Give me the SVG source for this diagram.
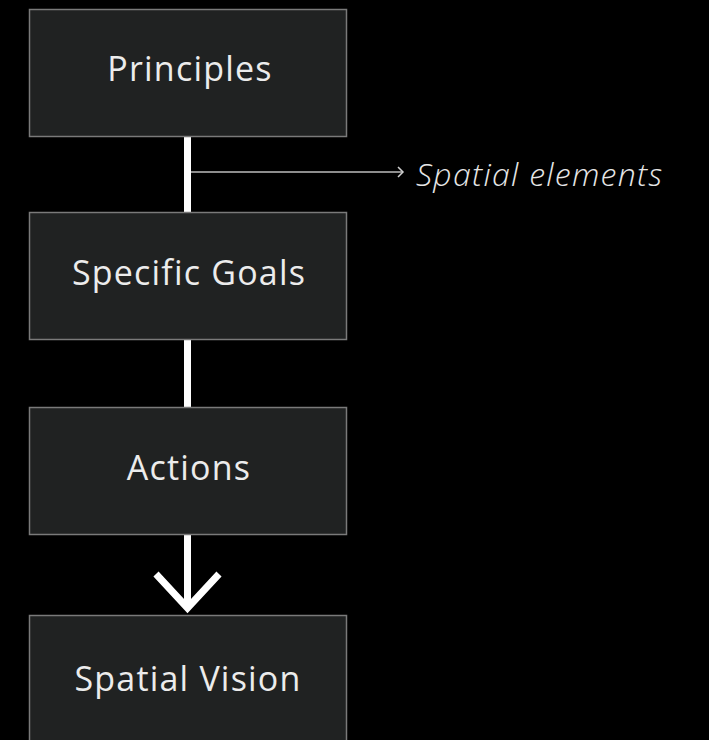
<svg xmlns="http://www.w3.org/2000/svg" width="709" height="740" viewBox="0 0 709 740">
<style>
.box{fill:#202222;stroke:#7a7a7a;stroke-width:1.5}
.lbl{font-family:"Open Sans","Noto Sans",sans-serif;font-size:34px;letter-spacing:1.2px;fill:#ececec;text-anchor:middle}
.note{font-family:"Open Sans","Noto Sans",sans-serif;font-style:italic;font-weight:300;font-size:32px;letter-spacing:1.3px;fill:#e6e6e6}
.thick{stroke:#ffffff;stroke-width:7;fill:none}
</style>
<rect width="709" height="740" fill="#000"/>
<g id="connectors">
<line class="thick" x1="187.5" y1="137" x2="187.5" y2="212"/>
<line class="thick" x1="187.5" y1="340" x2="187.5" y2="407"/>
<line x1="191" y1="172" x2="403" y2="172" stroke="#bdbdbd" stroke-width="1.5"/>
<polyline points="398,167 403,172 398,177" fill="none" stroke="#d0d0d0" stroke-width="1.5"/>
<line class="thick" x1="187.5" y1="535" x2="187.5" y2="608"/>
<polyline class="thick" points="156,574 187.5,608 219,574"/>
</g>
<g id="principles"><rect class="box" x="29.5" y="9.5" width="317" height="127"/><text class="lbl" x="190" y="81">Principles</text></g>
<g id="spatial-elements"><text class="note" x="416" y="186">Spatial elements</text></g>
<g id="specific-goals"><rect class="box" x="29.5" y="212.5" width="317" height="127"/><text class="lbl" x="189" y="285">Specific Goals</text></g>
<g id="actions"><rect class="box" x="29.5" y="407.5" width="317" height="127"/><text class="lbl" x="189" y="480">Actions</text></g>
<g id="spatial-vision"><rect class="box" x="29.5" y="615.5" width="317" height="135"/><text class="lbl" x="188" y="691">Spatial Vision</text></g>
</svg>
